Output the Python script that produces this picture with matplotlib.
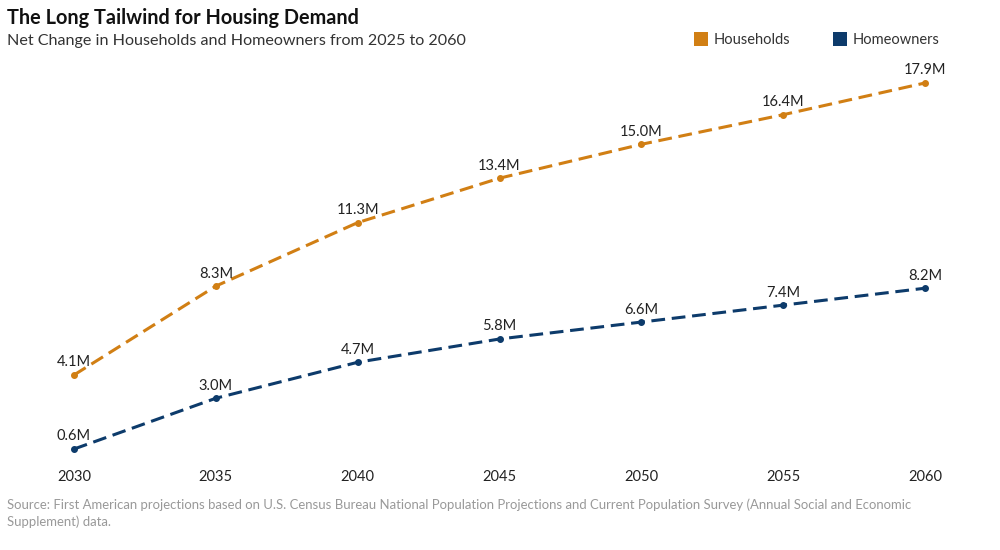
import matplotlib.pyplot as plt

plt.rcParams['font.family'] = ['Lato', 'DejaVu Sans']

years = [2030, 2035, 2040, 2045, 2050, 2055, 2060]
households = [4.1, 8.3, 11.3, 13.4, 15.0, 16.4, 17.9]
homeowners = [0.6, 3.0, 4.7, 5.8, 6.6, 7.4, 8.2]
series_names = ['Households', 'Homeowners']

orange = '#D17F14'
navy = '#0D3B6B'

fig = plt.figure(figsize=(10, 5.5), dpi=100)
ax = fig.add_axes([0.074, 0.1605, 0.851, 0.6925])

for vals, color in [(households, orange), (homeowners, navy)]:
    ax.plot(years, vals, color=color, linewidth=2.2, linestyle=(0, (4.5, 2.2)),
            marker='o', markersize=4, clip_on=False)
    for x, v in zip(years, vals):
        ax.annotate(f'{v:.1f}M', (x, v), xytext=(0, 4), textcoords='offset points',
                    ha='center', va='bottom', fontsize=10.5, color='#222222')

ax.set_xlim(2030, 2060)
ax.set_ylim(0, 18)
ax.set_xticks(years)
ax.set_xticklabels([str(y) for y in years], fontsize=10.5, color='#222222')
ax.tick_params(axis='x', length=0, pad=6)
ax.set_yticks([])
for s in ax.spines.values():
    s.set_visible(False)

fig.text(0.007, 0.968, 'The Long Tailwind for Housing Demand', fontsize=14.3,
         fontweight='bold', color='#111111', va='center')
fig.text(0.007, 0.925, 'Net Change in Households and Homeowners from 2025 to 2060',
         fontsize=11.6, color='#333333', va='center')

# legend
for lx, name, color in [(0.694, series_names[0], orange), (0.833, series_names[1], navy)]:
    fig.patches.append(plt.Rectangle((lx, 0.917), 0.0135, 0.0245, transform=fig.transFigure,
                                     facecolor=color, edgecolor='none'))
    fig.text(lx + 0.02, 0.928, name, fontsize=10.5, color='#333333', va='center')

fig.text(0.007, 0.083, 'Source: First American projections based on U.S. Census Bureau National '
         'Population Projections and Current Population Survey (Annual Social and Economic',
         fontsize=9.45, color='#999999', va='center')
fig.text(0.007, 0.052, 'Supplement) data.', fontsize=9.45, color='#999999', va='center')

plt.savefig('out.png', dpi=100)
plt.close()
